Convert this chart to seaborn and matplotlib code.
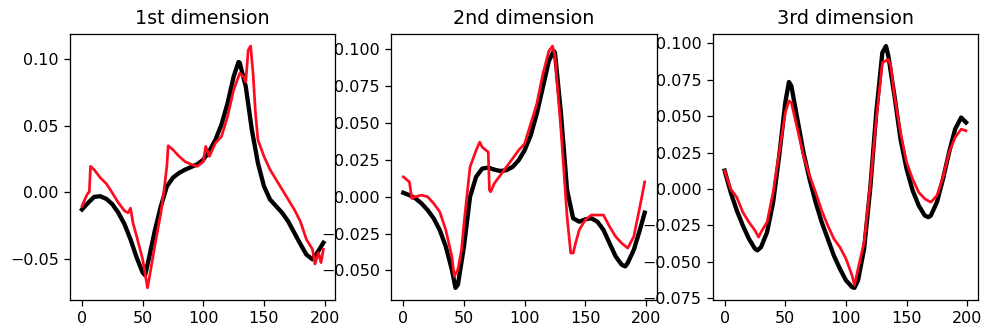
import numpy as np
import pandas as pd
import matplotlib
matplotlib.use("Agg")
import matplotlib.pyplot as plt
from matplotlib.ticker import MultipleLocator
import seaborn as sns

titles = ["1st dimension", "2nd dimension", "3rd dimension"]

# 1st dimension
x1_true = [0, 5, 10, 15, 20, 25, 30, 35, 40, 45, 50, 52, 55, 60, 65, 70, 75, 80, 85, 90,
           95, 100, 105, 110, 115, 120, 125, 129, 130, 135, 140, 145, 150, 155, 160, 165,
           170, 175, 180, 185, 190, 195, 199]
y1_true = [-0.013, -0.008, -0.0035, -0.003, -0.005, -0.009, -0.0155, -0.024, -0.0355, -0.049,
           -0.0605, -0.0625, -0.0505, -0.029, -0.0105, 0.0045, 0.011, 0.0145, 0.017, 0.019,
           0.021, 0.0245, 0.031, 0.0395, 0.051, 0.067, 0.087, 0.098, 0.0975, 0.0795, 0.047,
           0.022, 0.0045, -0.0055, -0.0105, -0.0155, -0.022, -0.0305, -0.039, -0.047, -0.0505,
           -0.044, -0.038]
x1_pred = [0, 3, 5, 6, 7, 10, 15, 20, 25, 30, 35, 38, 40, 42, 45, 50, 54, 55, 60, 65, 68, 70,
           71, 75, 80, 85, 90, 95, 100, 102, 105, 110, 115, 120, 125, 130, 133, 135, 137, 139,
           141, 143, 145, 150, 155, 160, 165, 170, 175, 180, 185, 190, 192, 195, 197, 199]
y1_pred = [-0.0105, -0.004, -0.0005, 0.0, 0.0195, 0.017, 0.011, 0.0065, -0.0005, -0.008,
           -0.014, -0.0155, -0.012, -0.023, -0.033, -0.0505, -0.072, -0.067, -0.0405, -0.0155,
           0.0045, 0.02, 0.035, 0.032, 0.027, 0.023, 0.021, 0.0195, 0.023, 0.0345, 0.027,
           0.037, 0.042, 0.057, 0.077, 0.0895, 0.087, 0.083, 0.107, 0.11, 0.0895, 0.0595,
           0.0395, 0.027, 0.017, 0.0095, 0.002, -0.0055, -0.013, -0.022, -0.0355, -0.043,
           -0.054, -0.0455, -0.053, -0.043]

# 2nd dimension
x2_true = [0, 5, 10, 15, 20, 25, 30, 35, 40, 43, 45, 50, 55, 60, 65, 70, 75, 80, 85, 90, 95,
           100, 105, 110, 115, 120, 124, 125, 130, 135, 140, 145, 150, 155, 160, 165, 170,
           175, 180, 183, 185, 190, 195, 199]
y2_true = [0.0027, 0.0011, -0.0011, -0.0045, -0.009, -0.0146, -0.0225, -0.0337, -0.0494,
           -0.0618, -0.0596, -0.0337, 0.0, 0.0135, 0.0191, 0.0198, 0.0184, 0.0175, 0.018,
           0.0202, 0.0247, 0.0315, 0.0416, 0.0562, 0.0742, 0.0921, 0.0989, 0.0978, 0.0562,
           0.0045, -0.0146, -0.0169, -0.0153, -0.0146, -0.0169, -0.0225, -0.0315, -0.0404,
           -0.0461, -0.0472, -0.0449, -0.036, -0.0225, -0.0108]
x2_pred = [0, 5, 7, 10, 15, 20, 25, 30, 35, 40, 42, 45, 48, 50, 55, 60, 63, 65, 70, 71, 72,
           75, 80, 85, 90, 95, 100, 105, 110, 115, 120, 123, 125, 130, 135, 138, 140, 142,
           145, 150, 155, 160, 165, 170, 175, 180, 185, 190, 195, 199]
y2_pred = [0.0135, 0.0101, -0.0011, 0.0, 0.0011, 0.0, -0.0045, -0.0101, -0.0225, -0.0404,
           -0.0539, -0.0494, -0.036, -0.018, 0.0202, 0.0315, 0.0371, 0.0337, 0.0303, 0.0045,
           0.0034, 0.009, 0.0146, 0.0202, 0.0258, 0.0315, 0.036, 0.0494, 0.0629, 0.0831,
           0.0989, 0.1022, 0.0955, 0.0449, -0.0135, -0.0382, -0.0382, -0.0315, -0.0225,
           -0.0157, -0.0124, -0.0124, -0.0124, -0.0202, -0.027, -0.0315, -0.0348, -0.027,
           -0.0067, 0.0101]

# 3rd dimension
x3_true = [0, 5, 10, 15, 20, 25, 27, 30, 35, 40, 45, 50, 53, 55, 60, 65, 70, 75, 80, 85, 90,
           95, 100, 105, 107, 110, 115, 120, 125, 130, 133, 135, 140, 145, 150, 155, 160,
           165, 168, 170, 175, 180, 185, 190, 195, 199]
y3_true = [0.0126, -0.0023, -0.0148, -0.0251, -0.0342, -0.0411, -0.0422, -0.04, -0.0297,
           -0.0091, 0.0228, 0.0594, 0.0735, 0.0708, 0.0479, 0.0251, 0.0068, -0.0091, -0.0228,
           -0.0342, -0.0457, -0.0548, -0.0628, -0.0674, -0.068, -0.0628, -0.0411, 0.0,
           0.0525, 0.0936, 0.0982, 0.0913, 0.0639, 0.0342, 0.0137, -0.0011, -0.0114, -0.0183,
           -0.0194, -0.0183, -0.0091, 0.0068, 0.0251, 0.0411, 0.0491, 0.0457]
x3_pred = [0, 5, 10, 15, 20, 25, 28, 30, 35, 40, 45, 50, 53, 55, 60, 65, 70, 75, 80, 85, 90,
           95, 100, 105, 107, 110, 115, 120, 125, 130, 135, 137, 140, 145, 150, 155, 160,
           165, 170, 175, 180, 185, 190, 195, 199]
y3_pred = [0.0126, 0.0, -0.0057, -0.016, -0.0228, -0.0285, -0.0331, -0.0297, -0.0228,
           -0.0023, 0.0251, 0.0525, 0.0605, 0.0594, 0.0411, 0.0228, 0.0091, -0.0023, -0.0148,
           -0.0251, -0.0342, -0.04, -0.0479, -0.0594, -0.0662, -0.0548, -0.0365, 0.0023,
           0.0479, 0.0868, 0.089, 0.0845, 0.0639, 0.0388, 0.0183, 0.0068, -0.0023, -0.0068,
           -0.0091, -0.0046, 0.008, 0.0251, 0.0354, 0.0411, 0.04]

panels = [
    (x1_true, y1_true, x1_pred, y1_pred),
    (x2_true, y2_true, x2_pred, y2_pred),
    (x3_true, y3_true, x3_pred, y3_pred),
]
y_steps = [0.05, 0.025, 0.025]

dpi = 115
fig, axes = plt.subplots(1, 3, figsize=(985 / dpi, 330 / dpi), dpi=dpi)
fig.subplots_adjust(left=0.071, right=0.993, bottom=0.091, top=0.897, wspace=0.21)

for ax, title, (xt, yt, xp, yp), step in zip(axes, titles, panels, y_steps):
    true_df = pd.DataFrame({"t": xt, "v": yt})
    pred_df = pd.DataFrame({"t": xp, "v": yp})
    sns.lineplot(data=true_df, x="t", y="v", ax=ax, color="black", linewidth=2.7, estimator=None)
    sns.lineplot(data=pred_df, x="t", y="v", ax=ax, color="#ff0a1e", linewidth=1.7, estimator=None)
    ax.set_title(title)
    ax.set_xlabel("")
    ax.set_ylabel("")
    ax.set_xticks([0, 50, 100, 150, 200])
    ax.yaxis.set_major_locator(MultipleLocator(step))

plt.savefig("out.png", dpi=dpi)
